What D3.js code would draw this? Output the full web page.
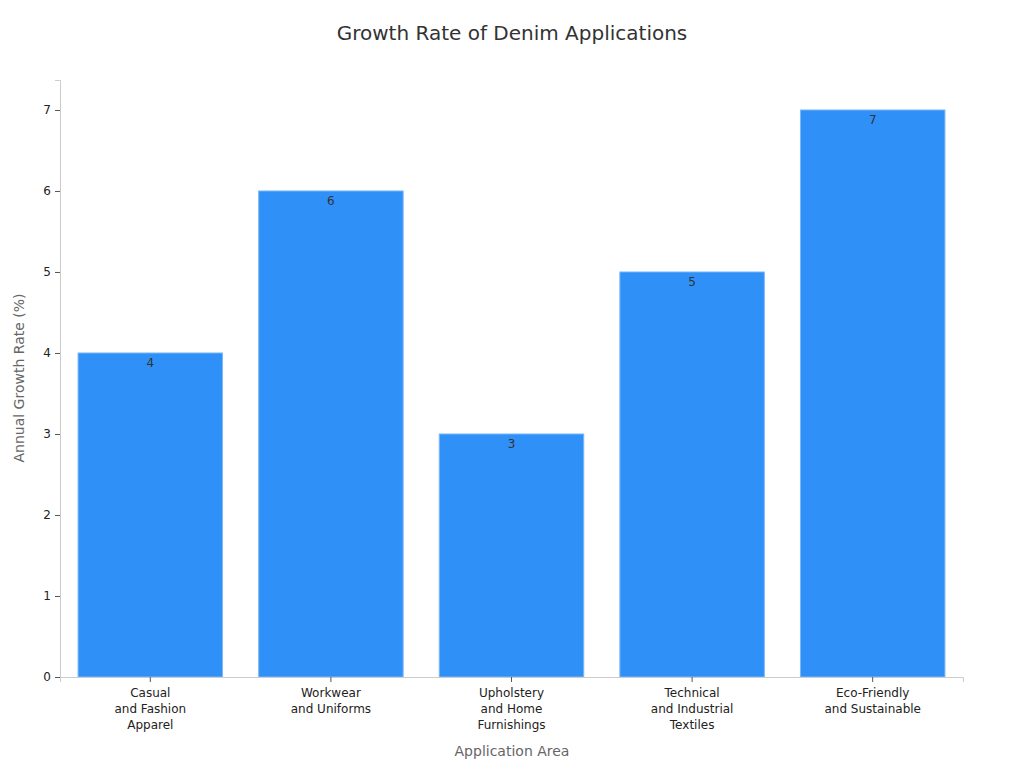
<!DOCTYPE html>
<html><head><meta charset="utf-8">
<script src="https://cdn.jsdelivr.net/npm/d3@7"></script>
<style>body{margin:0;background:#fff;font-family:"DejaVu Sans",sans-serif;}</style>
</head><body>
<svg id="c" width="1024" height="768"></svg>
<script>
const categories = [["Casual","and Fashion","Apparel"],["Workwear","and Uniforms"],["Upholstery","and Home","Furnishings"],["Technical","and Industrial","Textiles"],["Eco-Friendly","and Sustainable"]];
const values = [4,6,3,5,7];
const yTicks = [0,1,2,3,4,5,6,7];

const svg = d3.select("#c");
const m = {l:60, r:963, t:80, b:677};
const x = d3.scaleBand().domain(d3.range(values.length)).range([m.l, m.r]).paddingInner(0.2).paddingOuter(0.1);
const y = d3.scaleLinear().domain([0, 7.37]).range([m.b, m.t]);

svg.append("text").attr("x",512).attr("y",40).attr("text-anchor","middle")
  .attr("font-size",20).attr("fill","#333").text("Growth Rate of Denim Applications");

svg.selectAll("rect.bar").data(values).join("rect").attr("class","bar")
  .attr("x",(d,i)=>x(i)).attr("width",x.bandwidth())
  .attr("y",d=>y(d)).attr("height",d=>y(0)-y(d))
  .attr("fill","#2f91f7").attr("stroke","#7ab8f8").attr("stroke-width",1);

svg.selectAll("text.val").data(values).join("text").attr("class","val")
  .attr("x",(d,i)=>x(i)+x.bandwidth()/2).attr("y",d=>y(d)+14)
  .attr("text-anchor","middle").attr("font-size",12).attr("fill","#333").text(d=>d);

const ya = svg.append("g").attr("transform",`translate(${m.l},0)`)
  .call(d3.axisLeft(y).tickValues(yTicks).tickSize(5).tickPadding(4));
ya.select(".domain").attr("stroke","#ccc");
ya.selectAll(".tick line").attr("stroke","#555");
ya.selectAll("text").attr("font-size",12).attr("fill","#222").attr("font-family","DejaVu Sans");

const xa = svg.append("g").attr("transform",`translate(0,${m.b})`)
  .call(d3.axisBottom(x).tickSize(5).tickFormat(""));
xa.select(".domain").attr("stroke","#ccc");
xa.selectAll(".tick line").attr("stroke","#555");
xa.selectAll(".tick").each(function(d){
  const t = d3.select(this).append("text").attr("fill","#222").attr("font-size",12)
    .attr("text-anchor","middle").attr("font-family","DejaVu Sans");
  categories[d].forEach((s,k)=>t.append("tspan").attr("x",0).attr("y",20+k*16).text(s));
});

svg.append("text").attr("x",512).attr("y",756).attr("text-anchor","middle")
  .attr("font-size",14).attr("fill","#666").text("Application Area");
svg.append("text").attr("transform","translate(24,378) rotate(-90)").attr("text-anchor","middle")
  .attr("font-size",14).attr("fill","#666").text("Annual Growth Rate (%)");
</script>
</body></html>
